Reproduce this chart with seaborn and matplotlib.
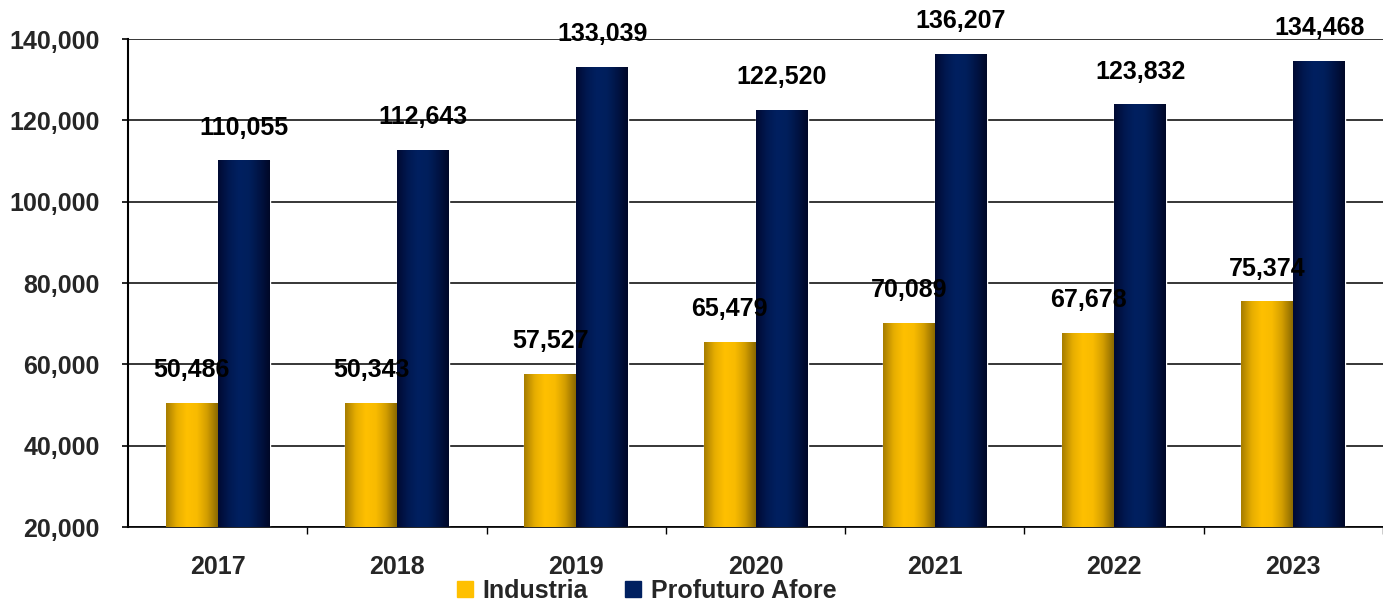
import matplotlib
matplotlib.use("Agg")
import matplotlib.pyplot as plt
import numpy as np
import pandas as pd
import seaborn as sns
from matplotlib.colors import LinearSegmentedColormap
from matplotlib.lines import Line2D

years = ["2017", "2018", "2019", "2020", "2021", "2022", "2023"]
industria = [50486, 50343, 57527, 65479, 70089, 67678, 75374]
profuturo = [110055, 112643, 133039, 122520, 136207, 123832, 134468]
series_names = ["Industria", "Profuturo Afore"]
y_ticks = [20000, 40000, 60000, 80000, 100000, 120000, 140000]

base_colors = {"Industria": "#ffc000", "Profuturo Afore": "#002060"}
gradients = {
    "Industria": ["#a77d00", "#e6ad00", "#ffc000", "#f8bb00", "#d29d00", "#8c6a00"],
    "Profuturo Afore": ["#000a33", "#001850", "#002060", "#001f5c", "#001445", "#000828"],
}

df = pd.DataFrame({
    "year": years * 2,
    "value": industria + profuturo,
    "serie": [series_names[0]] * len(years) + [series_names[1]] * len(years),
})

sns.set_style("white")
plt.rcParams["font.family"] = ["Liberation Sans", "DejaVu Sans"]
plt.rcParams["font.weight"] = "bold"

fig = plt.figure(figsize=(13.83, 6.03), dpi=100)
ax = fig.add_axes([0.0926, 0.126, 0.9074, 0.809])

sns.barplot(data=df, x="year", y="value", hue="serie", hue_order=series_names,
            palette=base_colors, width=0.58, gap=0, ax=ax, legend=False,
            saturation=1, zorder=2)

# horizontal gradient on each bar, drawn as an image over the patch
for container, name in zip(ax.containers, series_names):
    cmap = LinearSegmentedColormap.from_list(name, gradients[name])
    grad = np.linspace(0, 1, 64).reshape(1, -1)
    for bar in container:
        x0, w, h = bar.get_x(), bar.get_width(), bar.get_height()
        ax.imshow(grad, cmap=cmap, aspect="auto", extent=[x0, x0 + w, 0, h],
                  zorder=3, interpolation="bicubic")
        ax.annotate(f"{h:,.0f}", (x0 + w / 2, h), xytext=(0, 19),
                    textcoords="offset points", ha="center", va="baseline",
                    fontsize=18, fontweight="bold", color="black", zorder=5)

ax.set_ylim(20000, 140000)
ax.set_xlim(-0.5, len(years) - 0.5)

ax.set_yticks(y_ticks)
ax.set_yticklabels([f"{v:,}" for v in y_ticks])
ax.yaxis.grid(True, color="black", linewidth=1.1)
ax.set_axisbelow(True)
ax.set_xlabel("")
ax.set_ylabel("")

ax.set_xticks(np.arange(len(years)) + 0.5, minor=True)
ax.tick_params(axis="x", which="major", length=0, pad=20, labelsize=18)
ax.tick_params(axis="x", which="minor", bottom=True, length=5, width=1, color="black", direction="out")
ax.tick_params(axis="y", which="major", left=True, length=4.5, width=1.2, color="black",
               pad=16, labelsize=18, direction="out")
for lbl in ax.get_xticklabels() + ax.get_yticklabels():
    lbl.set_fontweight("bold")

for side in ["top", "right"]:
    ax.spines[side].set_visible(False)
ax.spines["left"].set_color("black")
ax.spines["left"].set_linewidth(1.5)
ax.spines["bottom"].set_color("black")
ax.spines["bottom"].set_linewidth(1.2)

handles = [Line2D([], [], marker="s", linestyle="", markersize=11.5,
                  markerfacecolor=base_colors[n], markeredgecolor=base_colors[n])
           for n in series_names]
fig.legend(handles, series_names, loc="center", bbox_to_anchor=(0.467, 0.02),
           ncol=2, frameon=False, prop={"size": 18, "weight": "bold"},
           handletextpad=0.3, columnspacing=1.4, handlelength=0.8)

fig.savefig("out.png", dpi=100)
